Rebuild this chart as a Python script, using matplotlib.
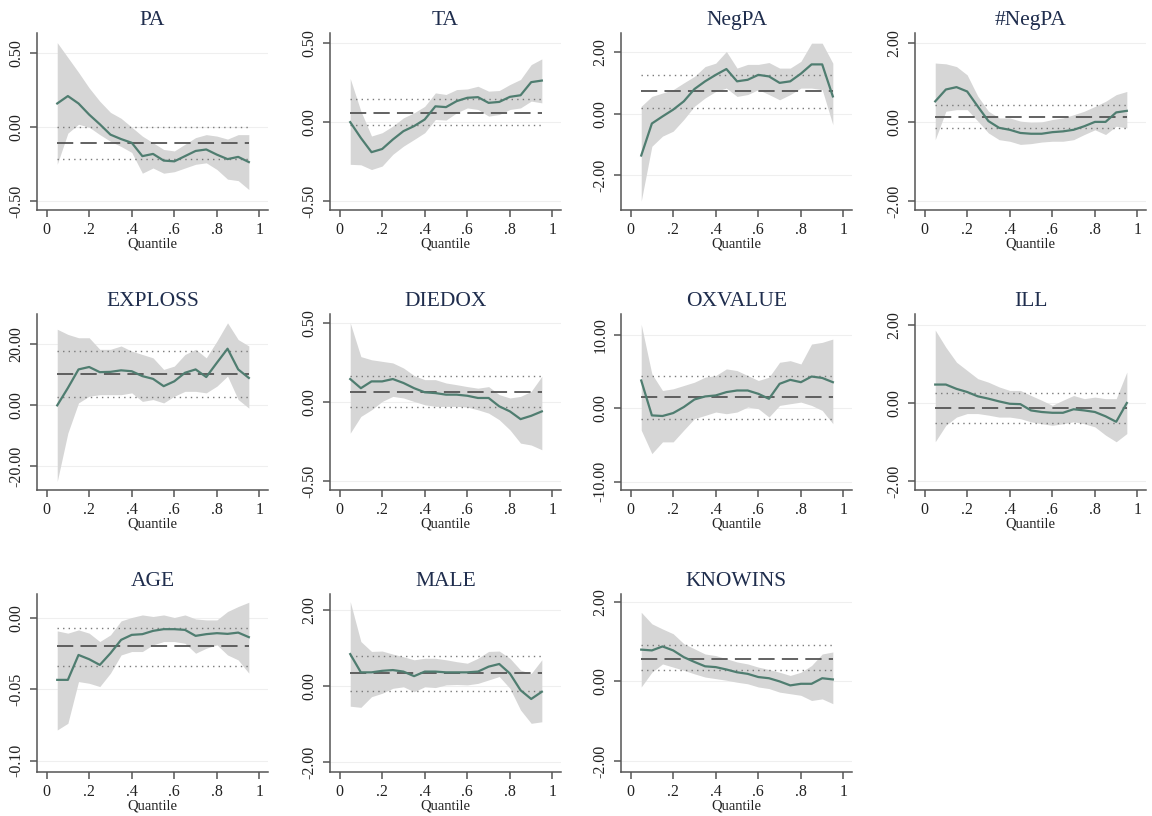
import matplotlib
matplotlib.use("Agg")
import matplotlib.pyplot as plt
from matplotlib.ticker import FormatStrFormatter

plt.rcParams['font.family'] = ['Liberation Serif', 'DejaVu Serif']
plt.rcParams['axes.unicode_minus'] = False

quantiles = [0.05, 0.10, 0.15, 0.20, 0.25, 0.30, 0.35, 0.40, 0.45, 0.50,
             0.55, 0.60, 0.65, 0.70, 0.75, 0.80, 0.85, 0.90, 0.95]
x_ticks = [0, 0.2, 0.4, 0.6, 0.8, 1.0]
x_ticklabels = ["0", ".2", ".4", ".6", ".8", "1"]

titles = ["PA", "TA", "NegPA", "#NegPA", "EXPLOSS", "DIEDOX", "OXVALUE", "ILL",
          "AGE", "MALE", "KNOWINS"]

# ---- PA
pa_coef = [0.16, 0.21, 0.16, 0.085, 0.02, -0.05, -0.08, -0.105, -0.195, -0.18,
           -0.225, -0.23, -0.195, -0.16, -0.15, -0.185, -0.215, -0.20, -0.235]
pa_hi = [0.57, 0.47, 0.37, 0.265, 0.175, 0.10, 0.06, 0.0, -0.06, -0.105,
         -0.15, -0.16, -0.115, -0.07, -0.05, -0.06, -0.08, -0.05, -0.05]
pa_lo = [-0.25, -0.04, 0.02, 0.0, -0.05, -0.095, -0.13, -0.17, -0.31, -0.275,
         -0.31, -0.30, -0.275, -0.25, -0.24, -0.285, -0.35, -0.36, -0.42]
pa_ols = [-0.105, -0.213, 0.0]

# ---- TA
ta_coef = [0.0, -0.10, -0.19, -0.17, -0.11, -0.057, -0.025, 0.017, 0.10, 0.095,
           0.133, 0.154, 0.158, 0.122, 0.128, 0.16, 0.17, 0.253, 0.263]
ta_hi = [0.276, 0.07, -0.088, -0.067, -0.025, 0.027, 0.059, 0.10, 0.185, 0.175,
         0.206, 0.21, 0.227, 0.196, 0.20, 0.238, 0.27, 0.364, 0.40]
ta_lo = [-0.267, -0.27, -0.30, -0.278, -0.204, -0.152, -0.11, -0.067, 0.017, 0.013,
         0.059, 0.09, 0.08, 0.038, 0.048, 0.08, 0.09, 0.133, 0.122]
ta_ols = [0.055, -0.021, 0.147]

# ---- NegPA
negpa_coef = [-1.36, -0.32, -0.09, 0.13, 0.40, 0.80, 1.05, 1.26, 1.45, 1.05,
              1.10, 1.26, 1.21, 1.00, 1.05, 1.30, 1.60, 1.60, 0.56]
negpa_hi = [0.24, 0.56, 0.67, 0.78, 1.00, 1.21, 1.53, 1.64, 2.02, 1.48,
            1.60, 1.60, 1.66, 1.48, 1.48, 1.70, 2.29, 2.29, 1.64]
negpa_lo = [-2.84, -1.06, -0.73, -0.57, -0.19, 0.24, 0.51, 0.72, 0.83, 0.56,
            0.62, 0.78, 0.62, 0.45, 0.62, 0.83, 0.83, 0.78, -0.36]
negpa_ols = [0.72, 0.18, 1.26]

# ---- #NegPA
nnegpa_coef = [0.53, 0.83, 0.89, 0.78, 0.40, 0.03, -0.14, -0.19, -0.27, -0.29,
               -0.29, -0.25, -0.23, -0.19, -0.10, 0.01, 0.01, 0.25, 0.29]
nnegpa_hi = [1.50, 1.48, 1.41, 1.20, 0.66, 0.28, 0.11, 0.11, 0.03, 0.0,
             0.01, 0.07, 0.11, 0.19, 0.28, 0.40, 0.53, 0.70, 0.78]
nnegpa_lo = [-0.44, 0.28, 0.32, 0.32, 0.03, -0.27, -0.44, -0.48, -0.56, -0.54,
             -0.50, -0.48, -0.48, -0.44, -0.31, -0.19, -0.31, -0.10, -0.14]
nnegpa_ols = [0.13, -0.14, 0.45]

# ---- EXPLOSS
exploss_coef = [0.0, 5.7, 11.8, 12.6, 10.9, 11.0, 11.5, 11.2, 9.6, 8.7,
                6.3, 7.9, 10.7, 11.8, 9.3, 14.0, 18.6, 11.8, 9.0]
exploss_hi = [25.0, 23.3, 22.2, 22.2, 18.4, 18.4, 19.5, 17.8, 16.7, 15.6,
              11.8, 12.9, 16.7, 18.4, 15.6, 21.1, 27.1, 21.6, 19.5]
exploss_lo = [-25.0, -9.1, 0.8, 3.0, 3.5, 3.5, 3.5, 4.1, 1.3, 1.9,
              0.8, 3.0, 4.6, 4.6, 4.1, 6.3, 9.6, 1.9, -0.9]
exploss_ols = [10.3, 2.7, 18.0]

# ---- DIEDOX
diedox_coef = [0.148, 0.09, 0.133, 0.133, 0.148, 0.123, 0.09, 0.064, 0.059, 0.049,
               0.049, 0.042, 0.028, 0.028, -0.025, -0.057, -0.106, -0.085, -0.057]
diedox_hi = [0.504, 0.29, 0.27, 0.26, 0.25, 0.218, 0.17, 0.144, 0.144, 0.123,
             0.112, 0.10, 0.09, 0.10, 0.049, 0.028, 0.038, 0.07, 0.165]
diedox_lo = [-0.195, -0.089, -0.047, 0.006, 0.038, 0.028, 0.006, -0.015, -0.025, -0.025,
             -0.025, -0.03, -0.047, -0.068, -0.11, -0.174, -0.258, -0.27, -0.30]
diedox_ols = [0.066, -0.032, 0.17]

# ---- OXVALUE
oxvalue_coef = [3.75, -1.0, -1.08, -0.68, 0.14, 1.17, 1.58, 1.72, 2.17, 2.39,
                2.39, 1.94, 1.26, 3.3, 3.84, 3.52, 4.29, 4.1, 3.52]
oxvalue_hi = [11.4, 4.65, 2.39, 2.62, 3.07, 3.52, 4.2, 4.42, 5.33, 5.1,
              4.42, 3.75, 4.2, 6.23, 6.45, 6.0, 8.71, 8.94, 9.39]
oxvalue_lo = [-3.0, -6.2, -4.6, -4.6, -3.0, -1.44, -1.0, -0.54, -0.77, -0.54,
              0.14, -0.09, -1.22, 0.36, 0.59, 0.81, 0.36, -0.32, -2.12]
oxvalue_ols = [1.49, -1.49, 4.42]

# ---- ILL
ill_coef = [0.47, 0.47, 0.36, 0.28, 0.17, 0.11, 0.04, -0.02, -0.03, -0.19,
            -0.23, -0.25, -0.25, -0.16, -0.19, -0.23, -0.34, -0.48, 0.0]
ill_hi = [1.86, 1.42, 1.04, 0.83, 0.62, 0.53, 0.41, 0.32, 0.32, 0.19,
          0.07, -0.06, 0.07, 0.19, 0.11, 0.15, 0.11, 0.11, 0.79]
ill_lo = [-0.99, -0.57, -0.36, -0.27, -0.27, -0.31, -0.36, -0.36, -0.40, -0.48,
          -0.53, -0.57, -0.53, -0.48, -0.53, -0.61, -0.82, -0.99, -0.78]
ill_ols = [-0.13, -0.51, 0.26]

# ---- AGE
age_coef = [-0.0433, -0.0433, -0.0258, -0.0288, -0.0328, -0.0246, -0.0152, -0.0117, -0.0112, -0.0089,
            -0.0077, -0.0077, -0.0082, -0.0124, -0.0112, -0.0105, -0.0110, -0.0101, -0.0133]
age_hi = [-0.0089, -0.0105, -0.0082, -0.0105, -0.0164, -0.0117, -0.0019, 0.0005, 0.0023, 0.0012,
          0.0023, 0.0005, 0.0023, -0.0005, -0.0012, -0.0012, 0.0047, 0.0082, 0.0112]
age_lo = [-0.0785, -0.0738, -0.0445, -0.0457, -0.0480, -0.0386, -0.0258, -0.0234, -0.0234, -0.0187,
          -0.0164, -0.0164, -0.0176, -0.0246, -0.0211, -0.0187, -0.0258, -0.0293, -0.0386]
age_ols = [-0.0194, -0.0335, -0.0070]

# ---- MALE
male_coef = [0.84, 0.36, 0.36, 0.40, 0.42, 0.38, 0.26, 0.38, 0.38, 0.36,
             0.36, 0.36, 0.38, 0.51, 0.58, 0.33, -0.11, -0.34, -0.15]
male_hi = [2.22, 1.17, 0.91, 0.92, 0.84, 0.77, 0.69, 0.73, 0.73, 0.69,
           0.64, 0.60, 0.73, 0.91, 0.92, 0.73, 0.42, 0.33, 0.69]
male_lo = [-0.53, -0.56, -0.28, -0.19, -0.06, -0.02, -0.15, -0.02, -0.04, 0.03,
           0.04, 0.03, 0.07, 0.16, 0.25, -0.06, -0.63, -0.98, -0.94]
male_ols = [0.35, -0.13, 0.79]

# ---- KNOWINS
knowins_coef = [0.80, 0.78, 0.88, 0.78, 0.61, 0.49, 0.38, 0.36, 0.30, 0.23,
                0.19, 0.11, 0.08, 0.0, -0.10, -0.06, -0.06, 0.08, 0.05]
knowins_hi = [1.74, 1.45, 1.32, 1.20, 0.95, 0.82, 0.69, 0.65, 0.57, 0.49,
              0.44, 0.36, 0.30, 0.23, 0.15, 0.23, 0.40, 0.69, 0.74]
knowins_lo = [-0.14, 0.23, 0.44, 0.36, 0.28, 0.19, 0.11, 0.07, 0.03, -0.02,
              -0.06, -0.14, -0.18, -0.27, -0.31, -0.35, -0.48, -0.44, -0.56]
knowins_ols = [0.57, 0.28, 0.92]

coefs = [pa_coef, ta_coef, negpa_coef, nnegpa_coef, exploss_coef, diedox_coef,
         oxvalue_coef, ill_coef, age_coef, male_coef, knowins_coef]
his = [pa_hi, ta_hi, negpa_hi, nnegpa_hi, exploss_hi, diedox_hi,
       oxvalue_hi, ill_hi, age_hi, male_hi, knowins_hi]
los = [pa_lo, ta_lo, negpa_lo, nnegpa_lo, exploss_lo, diedox_lo,
       oxvalue_lo, ill_lo, age_lo, male_lo, knowins_lo]
ols = [pa_ols, ta_ols, negpa_ols, nnegpa_ols, exploss_ols, diedox_ols,
       oxvalue_ols, ill_ols, age_ols, male_ols, knowins_ols]

y_ticks = [[-0.5, 0, 0.5], [-0.5, 0, 0.5], [-2, 0, 2], [-2, 0, 2],
           [-20, 0, 20], [-0.5, 0, 0.5], [-10, 0, 10], [-2, 0, 2],
           [-0.1, -0.05, 0], [-2, 0, 2], [-2, 0, 2]]
y_lims = [(-0.558, 0.635), (-0.556, 0.564), (-3.13, 2.62), (-2.22, 2.26),
          (-27.8, 30.0), (-0.555, 0.56), (-11.15, 12.8), (-2.22, 2.27),
          (-0.108, 0.017), (-2.26, 2.42), (-2.28, 2.20)]

W, H = 1152, 816
fig = plt.figure(figsize=(W / 100, H / 100), dpi=100)
fig.patch.set_facecolor("white")

col_left = [37, 330, 621, 915]
ax_w = 231
row_top = [33, 314, 594]
row_bot = [210, 490, 772]

line_col = "#4f7d70"
band_col = "#d6d6d6"
title_col = "#1f2d4d"
axis_col = "#555555"

for i in range(11):
    r, c = divmod(i, 4)
    left = col_left[c]
    top = row_top[r]
    bot = row_bot[r]
    ax = fig.add_axes([left / W, 1 - bot / H, ax_w / W, (bot - top) / H])
    ax.set_xlim(-0.045, 1.04)
    ax.set_ylim(*y_lims[i])
    for yt in y_ticks[i]:
        ax.axhline(yt, color="#efefef", lw=0.8, zorder=0)
    ax.fill_between(quantiles, los[i], his[i], color=band_col, lw=0, zorder=1)
    est, lo, hi = ols[i]
    q0, q1 = quantiles[0], quantiles[-1]
    ax.hlines(est, q0, q1, color="#555555", lw=1.3, linestyles=[(0, (9, 4))], zorder=2)
    ax.hlines([lo, hi], q0, q1, color="#7a7a7a", lw=1.0, linestyles=[(0, (1, 3))], zorder=2)
    ax.plot(quantiles, coefs[i], color=line_col, lw=1.6, zorder=3)

    for s in ["top", "right"]:
        ax.spines[s].set_visible(False)
    for s in ["left", "bottom"]:
        ax.spines[s].set_color(axis_col)
        ax.spines[s].set_linewidth(1.1)
    ax.set_xticks(x_ticks)
    ax.set_xticklabels(x_ticklabels)
    ax.set_yticks(y_ticks[i])
    ax.yaxis.set_major_formatter(FormatStrFormatter("%.2f"))
    ax.tick_params(axis="both", direction="out", length=5, width=1.1,
                   color=axis_col, labelsize=11.5, labelcolor="#222222", pad=4)
    for lab in ax.get_yticklabels():
        lab.set_rotation(90)
        lab.set_va("center")
    ax.set_xlabel("Quantile", fontsize=10.5, color="#222222", labelpad=-1)
    ax.set_title(titles[i], fontsize=15.5, color=title_col, pad=6)
    ax.set_facecolor("white")

fig.savefig("out.png", dpi=100, facecolor="white")
